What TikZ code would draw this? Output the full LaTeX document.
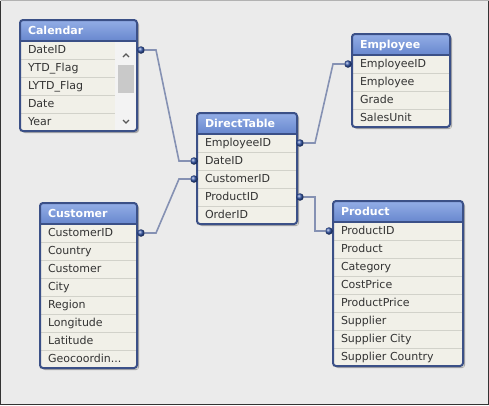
\documentclass[tikz,border=0pt]{standalone}
\usepackage{fontspec}
\setmainfont{DejaVu Sans}
\usetikzlibrary{positioning,backgrounds}

\definecolor{bgcol}{HTML}{EBEBEB}
\definecolor{headtop}{HTML}{93AEE6}
\definecolor{headbot}{HTML}{6887CE}
\definecolor{framecol}{HTML}{3B5087}
\definecolor{rowfill}{HTML}{F1F0E8}
\definecolor{rowline}{HTML}{D2D2CA}
\definecolor{linkcol}{HTML}{8591B3}
\definecolor{dotcol}{HTML}{2F52A6}
\definecolor{scrollfill}{HTML}{F3F3F3}
\definecolor{thumbfill}{HTML}{C9C9C9}

\begin{document}
\begin{tikzpicture}[
                x=1pt, y=-1pt,
                tabhead/.style={rectangle, rounded corners=3pt, top color=headtop, bottom color=headbot, text=white,
                    font=\fontsize{11}{13}\selectfont\bfseries, minimum height=21pt, inner xsep=8pt, inner ysep=0pt,
                    text height=8pt, text depth=1pt, outer sep=0pt, align=left, anchor=north west},
                tabrow/.style={rectangle, fill=rowfill, draw=rowline, line width=0.8pt, text=black!80,
                    font=\fontsize{11}{13}\selectfont, minimum height=18pt, inner xsep=8pt, inner ysep=0pt,
                    text height=8pt, text depth=1pt, outer sep=0pt, align=left},
                tabframe/.style={draw=framecol, line width=2pt, rounded corners=3pt},
                headline/.style={draw=framecol, line width=1.2pt},
                tabshadow/.style={fill=black!60, opacity=0.5, rounded corners=3pt},
                keydot/.style={circle, inner sep=0pt, minimum size=7.5pt, shading=ball, ball color=dotcol},
                link/.style={draw=linkcol, line width=1.6pt},
                scrollarrow/.style={draw=black!65, line width=1.1pt},
                auto
            ]
            \useasboundingbox (0,0) rectangle (489,405);

            %Calendar
            \node[tabhead, text width=101pt]    (cal)       at (20,20)  {Calendar};
            \node[tabrow, text width=79pt]      (cal_DateID) [below right=0pt and 0pt of cal.south west] {DateID};
            \node[tabrow, text width=79pt]      (cal_YTD)   [below=0pt of cal_DateID]   {YTD\_Flag};
            \node[tabrow, text width=79pt]      (cal_LYTD)  [below=0pt of cal_YTD]      {LYTD\_Flag};
            \node[tabrow, text width=79pt]      (cal_Date)  [below=0pt of cal_LYTD]     {Date};
            \node[tabrow, text width=79pt]      (cal_Year)  [below=0pt of cal_Date]     {Year};
            \node[fill=scrollfill, anchor=north west, minimum width=22pt, minimum height=90pt, inner sep=0pt, outer sep=0pt]
                (cal_bar) at (cal_DateID.north east) {};
            \node[fill=thumbfill, minimum width=16pt, minimum height=28pt, inner sep=0pt]
                (cal_thumb) at ([yshift=7pt]cal_bar.center) {};
            \draw[scrollarrow] ([xshift=-3pt,yshift=-16pt]cal_bar.north) -- ++(3,-3) -- ++(3,3);
            \draw[scrollarrow] ([xshift=-3pt,yshift=11pt]cal_bar.south) -- ++(3,3) -- ++(3,-3);

            %DirectTable
            \node[tabhead, text width=84pt]     (dt)        at (197,113) {DirectTable};
            \node[tabrow, text width=84pt]      (dt_EmployeeID) [below=0pt of dt]           {EmployeeID};
            \node[tabrow, text width=84pt]      (dt_DateID)     [below=0pt of dt_EmployeeID] {DateID};
            \node[tabrow, text width=84pt]      (dt_CustomerID) [below=0pt of dt_DateID]    {CustomerID};
            \node[tabrow, text width=84pt]      (dt_ProductID)  [below=0pt of dt_CustomerID] {ProductID};
            \node[tabrow, text width=84pt]      (dt_OrderID)    [below=0pt of dt_ProductID] {OrderID};

            %Employee
            \node[tabhead, text width=82pt]     (emp)       at (352,34) {Employee};
            \node[tabrow, text width=82pt]      (emp_EmployeeID) [below=0pt of emp]         {EmployeeID};
            \node[tabrow, text width=82pt]      (emp_Employee)  [below=0pt of emp_EmployeeID] {Employee};
            \node[tabrow, text width=82pt]      (emp_Grade)     [below=0pt of emp_Employee] {Grade};
            \node[tabrow, text width=82pt]      (emp_SalesUnit) [below=0pt of emp_Grade]    {SalesUnit};

            %Customer
            \node[tabhead, text width=81pt]     (cust)      at (40,203) {Customer};
            \node[tabrow, text width=81pt]      (cust_CustomerID) [below=0pt of cust]       {CustomerID};
            \node[tabrow, text width=81pt]      (cust_Country)  [below=0pt of cust_CustomerID] {Country};
            \node[tabrow, text width=81pt]      (cust_Customer) [below=0pt of cust_Country] {Customer};
            \node[tabrow, text width=81pt]      (cust_City)     [below=0pt of cust_Customer] {City};
            \node[tabrow, text width=81pt]      (cust_Region)   [below=0pt of cust_City]    {Region};
            \node[tabrow, text width=81pt]      (cust_Longitude) [below=0pt of cust_Region] {Longitude};
            \node[tabrow, text width=81pt]      (cust_Latitude) [below=0pt of cust_Longitude] {Latitude};
            \node[tabrow, text width=81pt]      (cust_Geo)      [below=0pt of cust_Latitude] {Geocoordin...};

            %Product
            \node[tabhead, text width=114pt]    (prod)      at (333,201) {Product};
            \node[tabrow, text width=114pt]     (prod_ProductID) [below=0pt of prod]        {ProductID};
            \node[tabrow, text width=114pt]     (prod_Product)  [below=0pt of prod_ProductID] {Product};
            \node[tabrow, text width=114pt]     (prod_Category) [below=0pt of prod_Product] {Category};
            \node[tabrow, text width=114pt]     (prod_CostPrice) [below=0pt of prod_Category] {CostPrice};
            \node[tabrow, text width=114pt]     (prod_ProductPrice) [below=0pt of prod_CostPrice] {ProductPrice};
            \node[tabrow, text width=114pt]     (prod_Supplier) [below=0pt of prod_ProductPrice] {Supplier};
            \node[tabrow, text width=114pt]     (prod_SupCity)  [below=0pt of prod_Supplier] {Supplier City};
            \node[tabrow, text width=114pt]     (prod_SupCountry) [below=0pt of prod_SupCity] {Supplier Country};

            %frames
            \draw[tabframe] (cal.north west) rectangle (cal_bar.south east);
            \draw[tabframe] (dt.north west) rectangle (dt_OrderID.south east);
            \draw[tabframe] (emp.north west) rectangle (emp_SalesUnit.south east);
            \draw[tabframe] (cust.north west) rectangle (cust_Geo.south east);
            \draw[tabframe] (prod.north west) rectangle (prod_SupCountry.south east);
            \draw[headline] (cal.south west) -- (cal.south east);
            \draw[headline] (dt.south west) -- (dt.south east);
            \draw[headline] (emp.south west) -- (emp.south east);
            \draw[headline] (cust.south west) -- (cust.south east);
            \draw[headline] (prod.south west) -- (prod.south east);

            %key dots
            \node[keydot] (cal_key)      at ([xshift=26pt]cal_DateID.east)      {};
            \node[keydot] (dt_key_date)  at ([xshift=-3pt]dt_DateID.west)       {};
            \node[keydot] (dt_key_cust)  at ([xshift=-3pt]dt_CustomerID.west)   {};
            \node[keydot] (dt_key_emp)   at ([xshift=3pt]dt_EmployeeID.east)    {};
            \node[keydot] (dt_key_prod)  at ([xshift=3pt]dt_ProductID.east)     {};
            \node[keydot] (emp_key)      at ([xshift=-4pt]emp_EmployeeID.west)  {};
            \node[keydot] (cust_key)     at ([xshift=4pt]cust_CustomerID.east)  {};
            \node[keydot] (prod_key)     at ([xshift=-4pt]prod_ProductID.west)  {};

            %links
            \draw[link] (cal_key) -- ++(15,0) -- ([xshift=-15pt]dt_key_date.center) -- (dt_key_date);
            \draw[link] (cust_key) -- ++(15,0) -- ([xshift=-15pt]dt_key_cust.center) -- (dt_key_cust);
            \draw[link] (dt_key_emp) -- ++(15,0) -- ([xshift=-15pt]emp_key.center) -- (emp_key);
            \draw[link] (dt_key_prod) -- ++(15,0) |- (prod_key);

            %background and shadows
            \begin{scope}[on background layer]
                \fill[bgcol] (0,0) rectangle (489,405);
                \fill[tabshadow] ([shift={(2pt,-2pt)}]cal.north west) rectangle ([shift={(2pt,-2pt)}]cal_bar.south east);
                \fill[tabshadow] ([shift={(2pt,-2pt)}]dt.north west) rectangle ([shift={(2pt,-2pt)}]dt_OrderID.south east);
                \fill[tabshadow] ([shift={(2pt,-2pt)}]emp.north west) rectangle ([shift={(2pt,-2pt)}]emp_SalesUnit.south east);
                \fill[tabshadow] ([shift={(2pt,-2pt)}]cust.north west) rectangle ([shift={(2pt,-2pt)}]cust_Geo.south east);
                \fill[tabshadow] ([shift={(2pt,-2pt)}]prod.north west) rectangle ([shift={(2pt,-2pt)}]prod_SupCountry.south east);
            \end{scope}

            %outer border
            \draw[black!80, line width=1pt] (0.5,0.5) -- (0.5,404.5) -- (488.5,404.5) -- (488.5,0.5);
            \draw[black!30, line width=1pt] (0.5,0.5) -- (488.5,0.5);
            \end{tikzpicture}
\end{document}
